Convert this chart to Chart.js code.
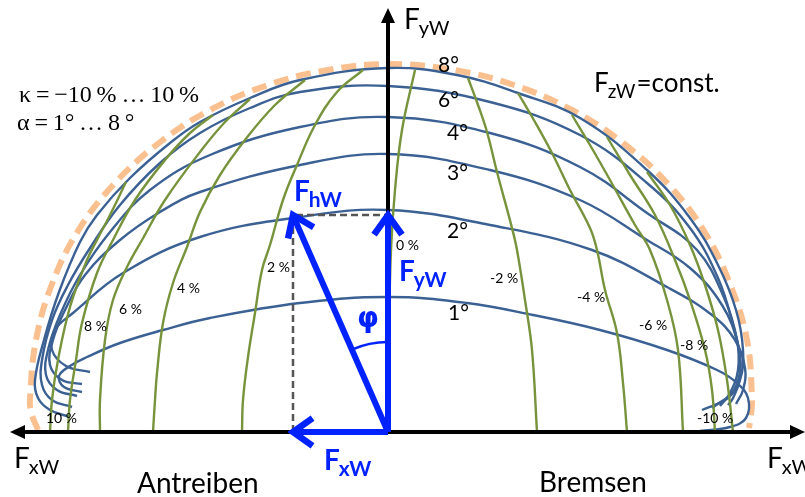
<!DOCTYPE html>
<html>
<head>
<meta charset="utf-8">
<script src="https://cdn.jsdelivr.net/npm/chart.js@4.4.1/dist/chart.umd.min.js"></script>
<style>
html, body { margin: 0; padding: 0; background: #fff; }
#wrap { width: 805px; height: 497px; position: relative; }
</style>
</head>
<body>
<div id="wrap"><canvas id="kammChart"></canvas></div>
<script>
// tyre forces in daN, origin at the contact point, negative Fx = drive (Antreiben)

// lines of constant slip angle alpha
const alphaLabels = ['1°', '2°', '3°', '4°', '6°', '8°'];
const alpha1 = [[-306,40],[-324,45],[-329,56],[-318,66],[-301,75],[-268,89],[-225,102],[-178,114],[-88,129],[0,135],[79,129],[145,117],[212,102],[279,82],[329,62],[349,49],[360,34],[358,14],[342,5],[312,1]];
const alpha2 = [[-298,60],[-322,66],[-336,82],[-333,102],[-315,119],[-265,159],[-188,195],[-88,215],[0,222],[102,207],[204,182],[279,145],[324,117],[347,92],[357,64],[355,42],[348,28]];
const alpha3 = [[-306,48],[-326,52],[-338,67],[-335,92],[-323,122],[-303,157],[-268,192],[-228,220],[-188,240],[-88,267],[0,278],[102,262],[192,232],[259,192],[302,164],[334,127],[350,87],[352,54],[345,34],[340,27]];
const alpha4 = [[-311,36],[-331,42],[-342,57],[-340,82],[-328,117],[-308,157],[-278,200],[-238,242],[-178,277],[-88,305],[0,315],[102,299],[192,265],[259,219],[309,182],[337,132],[349,92],[350,62],[342,39],[332,26]];
const alpha6 = [[-316,25],[-336,32],[-346,47],[-346,72],[-336,112],[-320,147],[-298,184],[-268,227],[-228,269],[-188,299],[-138,324],[-88,340],[0,346],[102,330],[192,297],[259,249],[302,204],[330,154],[345,107],[352,72],[346,42],[324,24]];
const alpha8 = [[-318,15],[-338,22],[-350,34],[-353,52],[-344,92],[-329,140],[-308,190],[-291,217],[-258,254],[-218,289],[-188,310],[-138,334],[-88,352],[0,364],[69,357],[130,339],[192,314],[259,262],[302,214],[330,167],[348,122],[355,82],[352,52],[340,34],[314,22]];

// lines of constant longitudinal slip kappa
const kappaLabels = ['10 %', '8 %', '6 %', '4 %', '2 %', '0 %', '-2 %', '-4 %', '-6 %', '-8 %', '-10 %'];
const kappa10 = [[-338,0],[-336,32],[-330,72],[-318,125],[-301,172],[-291,192],[-278,217],[-262,250]];
const kappa8 = [[-320,0],[-318,32],[-312,72],[-306,109],[-291,159],[-275,192],[-253,232],[-223,272],[-198,299],[-175,317]];
const kappa6 = [[-288,0],[-288,32],[-283,92],[-275,132],[-261,165],[-246,192],[-223,232],[-188,280],[-163,310],[-138,333]];
const kappa4 = [[-235,0],[-233,32],[-231,59],[-225,109],[-215,149],[-201,185],[-188,220],[-168,257],[-143,292],[-113,327],[-83,352]];
const kappa2 = [[-146,0],[-145,32],[-140,75],[-133,119],[-126,162],[-118,187],[-105,232],[-91,267],[-73,307],[-51,340],[-25,362]];
const kappa0 = [[0,0],[1,102],[3,182],[7,242],[14,302],[27,362]];
const kappaM2 = [[149,0],[144,82],[137,132],[129,182],[124,204],[109,260],[99,300],[90,327],[80,354]];
const kappaM4 = [[239,0],[235,49],[229,99],[217,142],[209,182],[202,204],[182,242],[165,277],[147,310],[130,339]];
const kappaM6 = [[295,0],[290,82],[279,132],[262,182],[247,207],[222,252],[202,287],[184,317]];
const kappaM8 = [[327,0],[324,42],[317,82],[302,132],[287,172],[267,217],[242,257],[219,295]];
const kappaM10 = [[345,0],[339,52],[330,102],[317,147],[302,187],[282,227],[259,260]];

// friction limit for F_zW = const.
const frictionLimit = [[-350,2],[-357,20],[-358,34],[-352,92],[-336,148],[-310,201],[-274,248],[-229,289],[-178,322],[-120,347],[-60,362],[3,368],[66,362],[126,347],[184,322],[235,289],[280,248],[316,201],[342,148],[359,92],[364,34],[363,17],[361,4]];

// resulting force and its components
const fhw = [-95, 217];

const blueLine = 'rgb(59, 97, 148)';
const greenLine = 'rgb(119, 147, 60)';
const vecBlue = 'rgb(0, 34, 255)';

function curve(data, color, order) {
    return {
        data: data,
        showLine: true,
        borderColor: color,
        borderWidth: 2.4,
        pointRadius: 0,
        tension: 0.4,
        fill: false,
        order: order
    };
}

function straight(data, color, width, order, dash) {
    return {
        data: data,
        showLine: true,
        borderColor: color,
        borderWidth: width,
        borderDash: dash || [],
        pointRadius: 0,
        tension: 0,
        fill: false,
        order: order
    };
}

const datasets = [];
datasets.push(Object.assign(curve(frictionLimit, 'rgb(250, 192, 144)', 9), { borderWidth: 6, borderDash: [15, 8] }));
[alpha1, alpha2, alpha3, alpha4, alpha6, alpha8].forEach(function (a) {
    datasets.push(curve(a, blueLine, 7));
});
[kappa10, kappa8, kappa6, kappa4, kappa2, kappa0, kappaM2, kappaM4, kappaM6, kappaM8, kappaM10].forEach(function (k) {
    datasets.push(curve(k, greenLine, 6));
});
// axes
datasets.push(straight([[-374, 0], [410, 0]], '#000', 4, 4));
datasets.push(straight([[0, 0], [0, 412]], '#000', 4, 4));
// projections of F_hW
datasets.push(straight([[fhw[0], 0], [fhw[0], fhw[1]], [0, fhw[1]]], '#555', 2.5, 3, [7, 4]));
// force vectors
datasets.push(straight([[0, 0], [0, fhw[1] - 4]], vecBlue, 6, 1));
datasets.push(straight([[0, 0], [fhw[0] + 2, fhw[1] - 5]], vecBlue, 6, 1));
datasets.push(straight([[0, 0], [fhw[0] + 4, 0]], vecBlue, 6, 1));

function chevron(ctx, x, y, ang, len, spread) {
    ctx.beginPath();
    ctx.moveTo(x + len * Math.cos(ang + Math.PI - spread), y + len * Math.sin(ang + Math.PI - spread));
    ctx.lineTo(x, y);
    ctx.lineTo(x + len * Math.cos(ang + Math.PI + spread), y + len * Math.sin(ang + Math.PI + spread));
    ctx.stroke();
}

function triangle(ctx, x, y, ang, len, half) {
    const bx = x - len * Math.cos(ang), by = y - len * Math.sin(ang);
    ctx.beginPath();
    ctx.moveTo(x, y);
    ctx.lineTo(bx + half * Math.sin(ang), by - half * Math.cos(ang));
    ctx.lineTo(bx - half * Math.sin(ang), by + half * Math.cos(ang));
    ctx.closePath();
    ctx.fill();
}

function subText(ctx, main, sub, x, y, size, subSize, color, weight) {
    ctx.fillStyle = color;
    ctx.font = weight + ' ' + size + 'px Lato';
    ctx.fillText(main, x, y);
    const w = ctx.measureText(main).width;
    ctx.font = weight + ' ' + subSize + 'px Lato';
    ctx.fillText(sub, x + w - 1, y + size * 0.22);
    return x + w - 1 + ctx.measureText(sub).width;
}

const diagramPlugin = {
    id: 'diagramMarks',
    afterDatasetsDraw(chart) {
        const ctx = chart.ctx;
        const X = v => chart.scales.x.getPixelForValue(v);
        const Y = v => chart.scales.y.getPixelForValue(v);
        ctx.save();
        // axis arrow heads
        ctx.fillStyle = '#000';
        triangle(ctx, X(-378), Y(0), Math.PI, 15, 7);
        triangle(ctx, X(417), Y(0), 0, 15, 7);
        triangle(ctx, X(0), Y(424), -Math.PI / 2, 15, 7);
        // vector heads
        ctx.strokeStyle = vecBlue;
        ctx.lineWidth = 6.5;
        ctx.lineJoin = 'miter';
        ctx.lineCap = 'butt';
        chevron(ctx, X(0), Y(fhw[1]), -Math.PI / 2, 24, 0.62);
        const a = Math.atan2(Y(fhw[1]) - Y(0), X(fhw[0]) - X(0));
        chevron(ctx, X(fhw[0]), Y(fhw[1]), a, 24, 0.62);
        chevron(ctx, X(fhw[0]), Y(0), Math.PI, 24, 0.62);
        // angle phi between F_yW and F_hW
        ctx.lineWidth = 2.5;
        ctx.beginPath();
        ctx.arc(X(0), Y(0), 90, a, -Math.PI / 2);
        ctx.stroke();
        ctx.restore();
    },
    afterDraw(chart) {
        const ctx = chart.ctx;
        ctx.save();
        ctx.textBaseline = 'alphabetic';
        // axis names
        subText(ctx, 'F', 'yW', 404, 29, 28, 20, '#000', 'normal');
        subText(ctx, 'F', 'xW', 14, 468, 28, 20, '#000', 'normal');
        subText(ctx, 'F', 'xW', 767, 468, 28, 20, '#000', 'normal');
        ctx.font = '28px Lato';
        ctx.fillStyle = '#000';
        ctx.fillText('Antreiben', 137, 493);
        ctx.fillText('Bremsen', 539, 492);
        // load condition
        const ex = subText(ctx, 'F', 'zW', 594, 92, 26, 19, '#000', 'normal');
        ctx.font = '26px Lato';
        ctx.fillText('=const.', ex + 1, 92);
        // parameter ranges
        ctx.font = '24px "Liberation Serif"';
        ctx.fillText('\u03BA\u2009=\u2009\u221210\u2009%\u2009\u2026\u200910\u2009%', 19, 102);
        ctx.fillText('\u03B1\u2009=\u20091\u00B0\u2009\u2026\u20098\u2009\u00B0', 17, 130);
        // slip angle labels
        ctx.font = '21px Lato';
        const alphaPos = [[448, 320], [447, 238], [447, 180], [447, 140], [438, 107], [438, 72]];
        alphaLabels.forEach(function (t, i) { ctx.fillText(t, alphaPos[i][0], alphaPos[i][1]); });
        // slip labels
        ctx.font = '14px Lato';
        const kappaPos = [[46, 423], [84, 331], [119, 314], [177, 293], [267, 272], [396, 250], [490, 283], [577, 302], [639, 330], [680, 350], [697, 423]];
        kappaLabels.forEach(function (t, i) { ctx.fillText(t, kappaPos[i][0], kappaPos[i][1]); });
        // vector names
        subText(ctx, 'F', 'hW', 294, 201, 28, 21, vecBlue, 'bold');
        subText(ctx, 'F', 'yW', 399, 281, 28, 21, vecBlue, 'bold');
        subText(ctx, 'F', 'xW', 324, 470, 28, 21, vecBlue, 'bold');
        ctx.font = 'bold 28px "DejaVu Sans"';
        ctx.fillStyle = vecBlue;
        ctx.fillText('\u03C6', 357, 327);
        ctx.restore();
    }
};

const config = {
    type: 'scatter',
    data: { datasets: datasets },
    options: {
        responsive: true,
        maintainAspectRatio: false,
        animation: false,
        layout: { padding: 0 },
        scales: {
            x: { type: 'linear', min: -388, max: 417, display: false },
            y: { type: 'linear', min: -65, max: 432, display: false }
        },
        plugins: {
            legend: { display: false },
            tooltip: { enabled: false }
        }
    },
    plugins: [diagramPlugin]
};

const kammChart = new Chart(document.getElementById('kammChart'), config);
</script>
</body>
</html>
